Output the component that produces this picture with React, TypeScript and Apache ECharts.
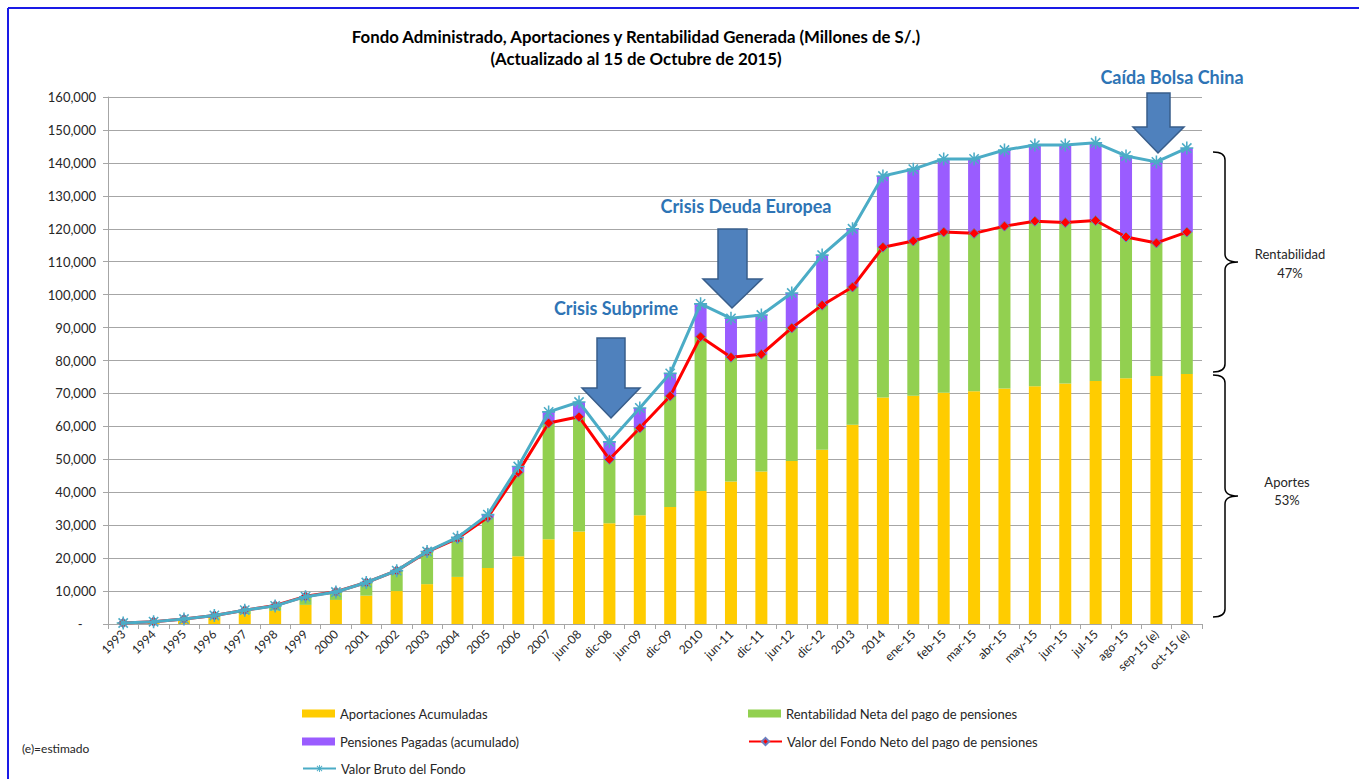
import React, { useEffect, useRef } from "react";
import * as echarts from "echarts";

const categories = [
  "1993", "1994", "1995", "1996", "1997", "1998", "1999", "2000", "2001", "2002",
  "2003", "2004", "2005", "2006", "2007", "jun-08", "dic-08", "jun-09", "dic-09", "2010",
  "jun-11", "dic-11", "jun-12", "dic-12", "2013", "2014", "ene-15", "feb-15", "mar-15", "abr-15",
  "may-15", "jun-15", "jul-15", "ago-15", "sep-15 (e)", "oct-15 (e)",
];

const aportaciones = [
  300, 600, 1000, 1900, 3000, 4000, 5800, 7300, 8600, 10000,
  12100, 14300, 17000, 20600, 25700, 28100, 30600, 33000, 35500, 40400,
  43300, 46300, 49500, 52900, 60500, 68800, 69300, 70200, 70700, 71500,
  72200, 73000, 73800, 74600, 75300, 75900,
];

const rentabilidadNeta = [
  0, 100, 500, 700, 1200, 1600, 2600, 2500, 4000, 6200,
  9800, 11700, 15400, 25500, 35300, 34800, 19400, 26500, 33700, 46800,
  37700, 35600, 40400, 43900, 41800, 45600, 47000, 48800, 47900, 49300,
  50100, 48900, 48700, 42900, 40400, 43100,
];

const pensionesPagadas = [
  0, 0, 0, 0, 0, -400, -400, -400, -400, 0,
  100, 300, 800, 1700, 3400, 4500, 5300, 6100, 6900, 10000,
  11800, 11900, 10600, 15200, 17700, 21600, 21800, 22200, 22600, 23100,
  23100, 23500, 23600, 24600, 24600, 25500,
];

const valorNeto = [
  300, 700, 1500, 2600, 4200, 5600, 8400, 9800, 12600, 16200,
  21900, 26000, 32400, 46100, 61000, 62900, 50000, 59500, 69200, 87200,
  81000, 81900, 89900, 96800, 102300, 114400, 116300, 119000, 118600, 120800,
  122300, 121900, 122500, 117500, 115700, 119000,
];

const valorBruto = [
  300, 700, 1500, 2600, 4200, 5500, 8300, 9700, 12600, 16200,
  22000, 26300, 33200, 47800, 64400, 67400, 55300, 65600, 76100, 97200,
  92800, 93800, 100500, 112000, 120000, 136000, 138100, 141200, 141200, 143900,
  145400, 145400, 146100, 142100, 140300, 144500,
];

const seriesNames = [
  "Aportaciones Acumuladas",
  "Rentabilidad Neta del pago de pensiones",
  "Pensiones Pagadas (acumulado)",
  "Valor del Fondo Neto del pago de pensiones",
  "Valor Bruto del Fondo",
];

const FONT = "Lato, 'Open Sans', sans-serif";
const ANN = "#2e74b5";

const braceTop =
  "M1213,152 Q1225,152 1225,160 L1225,254 Q1225,262 1238,262 Q1225,262 1225,270 L1225,364 Q1225,372 1213,372";
const braceBottom =
  "M1213,375 Q1225,375 1225,383 L1225,488 Q1225,496 1238,496 Q1225,496 1225,504 L1225,609 Q1225,617 1213,617";

let registered = false;
function registerShapes() {
  if (registered) return;
  echarts.graphic.registerShape("braceTop", echarts.graphic.extendPath(braceTop, {}));
  echarts.graphic.registerShape("braceBottom", echarts.graphic.extendPath(braceBottom, {}));
  registered = true;
}

const starSymbol =
  "path://M8.8,0 L11.2,0 L11.2,20 L8.8,20 Z M0,8.8 L20,8.8 L20,11.2 L0,11.2 Z M2,3.7 L3.7,2 L18,16.3 L16.3,18 Z M16.3,2 L18,3.7 L3.7,18 L2,16.3 Z";

function arrow(x1: number, x2: number, top: number, headY: number, hx1: number, hx2: number, tipX: number, tipY: number) {
  return {
    type: "polygon",
    shape: {
      points: [
        [x1, top], [x2, top], [x2, headY], [hx2, headY], [tipX, tipY], [hx1, headY], [x1, headY],
      ],
    },
    style: { fill: "#4f81bd", stroke: "#385d8a", lineWidth: 1.5 },
    z: 100,
  };
}

function annText(text: string, x: number, y: number) {
  return {
    type: "text",
    x, y,
    style: {
      text,
      fill: ANN,
      font: `bold 18px ${FONT}`,
      textAlign: "center",
      textVerticalAlign: "middle",
    },
    z: 100,
  };
}

function plainText(text: string, x: number, y: number, size = 13, align = "center") {
  return {
    type: "text",
    x, y,
    style: {
      text,
      fill: "#262626",
      font: `${size}px ${FONT}`,
      textAlign: align,
      textVerticalAlign: "middle",
    },
    z: 100,
  };
}

function legendAt(name: string, left: number, top: number, isLine: boolean) {
  return {
    data: [name],
    left,
    top,
    padding: 0,
    itemWidth: 33,
    itemHeight: isLine ? 9 : 8,
    itemGap: 6,
    icon: isLine ? undefined : "rect",
    textStyle: { fontFamily: FONT, fontSize: 13, color: "#262626", padding: [0, 0, 0, 0] },
    selectedMode: false,
  };
}

export default function App() {
  const ref = useRef<HTMLDivElement>(null);
  useEffect(() => {
    if (!ref.current) return;
    registerShapes();
    const chart = echarts.init(ref.current, undefined, { renderer: "svg" });
    chart.setOption({
      animation: false,
      backgroundColor: "#ffffff",
      textStyle: { fontFamily: FONT },
      title: {
        text: "Fondo Administrado, Aportaciones y Rentabilidad Generada (Millones de S/.)\n(Actualizado al 15 de Octubre de 2015)",
        left: 631,
        textAlign: "center",
        top: 20,
        textStyle: { fontFamily: FONT, fontSize: 16.8, fontWeight: "bold", color: "#000", lineHeight: 22 },
      },
      legend: [
        legendAt(seriesNames[0], 302, 707, false),
        legendAt(seriesNames[1], 748, 707, false),
        legendAt(seriesNames[2], 302, 735, false),
        legendAt(seriesNames[3], 748, 735, true),
        legendAt(seriesNames[4], 302, 762, true),
      ],
      grid: { left: 108, right: 157, top: 97, bottom: 155, containLabel: false },
      xAxis: {
        type: "category",
        data: categories,
        boundaryGap: true,
        axisLine: { lineStyle: { color: "#a6a6a6", width: 1 } },
        axisTick: { show: true, length: 5, lineStyle: { color: "#a6a6a6" } },
        axisLabel: { rotate: 45, interval: 0, fontSize: 12, color: "#262626", fontFamily: FONT, margin: 8 },
      },
      yAxis: {
        type: "value",
        min: 0,
        max: 160000,
        interval: 10000,
        axisLine: { show: true, lineStyle: { color: "#a6a6a6" } },
        axisTick: { show: true, length: 5, lineStyle: { color: "#a6a6a6" } },
        splitLine: { lineStyle: { color: "#a6a6a6", width: 1 } },
        axisLabel: {
          fontSize: 13,
          color: "#262626",
          fontFamily: FONT,
          margin: 12,
          formatter: (v: number) => (v === 0 ? "-    " : v.toLocaleString("en-US")),
        },
      },
      series: [
        {
          name: seriesNames[0], type: "bar", stack: "total", data: aportaciones,
          barWidth: 12, itemStyle: { color: "#ffcc00" },
        },
        {
          name: seriesNames[1], type: "bar", stack: "total", data: rentabilidadNeta,
          barWidth: 12, itemStyle: { color: "#92d050" },
        },
        {
          name: seriesNames[2], type: "bar", stack: "total", data: pensionesPagadas,
          barWidth: 12, itemStyle: { color: "#9a5cff" },
        },
        {
          name: seriesNames[3], type: "line", data: valorNeto,
          symbol: "diamond", symbolSize: 10,
          lineStyle: { color: "#ff0000", width: 3 },
          itemStyle: { color: "#ff0000", borderColor: "#6b7fbf", borderWidth: 1 },
          z: 5,
        },
        {
          name: seriesNames[4], type: "line", data: valorBruto,
          symbol: starSymbol, symbolSize: 13,
          lineStyle: { color: "#4bacc6", width: 3 },
          itemStyle: { color: "#4bacc6" },
          z: 6,
        },
      ],
      graphic: [
        { type: "line", shape: { x1: 8, y1: 8, x2: 1359, y2: 8 }, style: { stroke: "#1a1ae6", lineWidth: 2 } },
        { type: "line", shape: { x1: 8, y1: 8, x2: 8, y2: 779 }, style: { stroke: "#1a1ae6", lineWidth: 2 } },
        arrow(597, 625, 338, 388, 582, 640, 611, 418),
        arrow(718, 747, 229, 279, 703, 762, 732, 308),
        arrow(1147, 1170, 93, 127, 1133, 1184, 1158, 153),
        annText("Crisis Subprime", 616, 308),
        annText("Crisis Deuda Europea", 746, 206),
        annText("Caída Bolsa China", 1172, 77),
        { type: "braceTop", x: 0, y: 0, style: { stroke: "#000", fill: "none", lineWidth: 1.5 }, z: 100 },
        { type: "braceBottom", x: 0, y: 0, style: { stroke: "#000", fill: "none", lineWidth: 1.5 }, z: 100 },
        plainText("Rentabilidad", 1290, 254),
        plainText("47%", 1290, 273),
        plainText("Aportes", 1287, 482),
        plainText("53%", 1287, 500),
        plainText("(e)=estimado", 22, 748, 12, "left"),
      ],
    });
    return () => chart.dispose();
  }, []);
  return (
    <div style={{ position: "fixed", left: 0, top: 0, width: 1359, height: 779, background: "#fff" }}>
      <div ref={ref} style={{ width: 1359, height: 779 }} />
    </div>
  );
}
